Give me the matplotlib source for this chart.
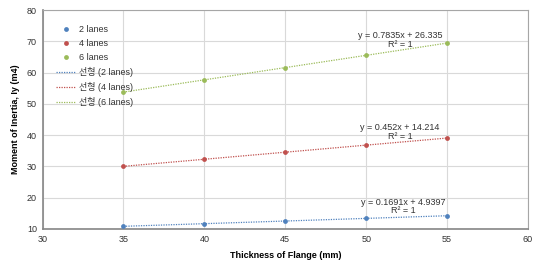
import numpy as np
import matplotlib
matplotlib.use("Agg")
import matplotlib.pyplot as plt

plt.rcParams['font.family'] = ['Liberation Sans', 'Noto Sans CJK KR', 'DejaVu Sans']

thickness = [35, 40, 45, 50, 55]
lanes2 = [10.86, 11.70, 12.55, 13.39, 14.24]
lanes4 = [30.03, 32.29, 34.55, 36.81, 39.07]
lanes6 = [53.76, 57.68, 61.59, 65.51, 69.43]
series_names = ['2 lanes', '4 lanes', '6 lanes']
trend_names = ['선형 (2 lanes)', '선형 (4 lanes)', '선형 (6 lanes)']
equations = ['y = 0.1691x + 4.9397', 'y = 0.452x + 14.214', 'y = 0.7835x + 26.335']
colors = ['#4F81BD', '#C0504D', '#9BBB59']

fig = plt.figure(figsize=(5.35, 2.63), dpi=100)
ax = fig.add_axes([42.5/535, 1-229/263, (528-42.5)/535, 219/263])

data = [lanes2, lanes4, lanes6]
handles_pts = []
handles_lines = []
eq_pos = [(52.3, 18.6, 15.8), (52.1, 42.6, 39.7), (52.1, 71.7, 69.1)]
for vals, c, n in zip(data, colors, series_names):
    h = ax.scatter(thickness, vals, s=12, color=c, zorder=3, label=n, linewidths=0)
    handles_pts.append(h)
for vals, c, n, pos, eq in zip(data, colors, trend_names, eq_pos, equations):
    m, b = np.polyfit(thickness, vals, 1)
    xs = np.array([thickness[0], thickness[-1]])
    h, = ax.plot(xs, m*xs + b, linestyle=(0, (1, 1)), lw=0.9, color=c, label=n, zorder=2)
    handles_lines.append(h)
    ax.text(pos[0], pos[1], eq, ha='center', va='center', fontsize=6.5, color='#333333')
    ax.text(pos[0], pos[2], "R² = 1", ha='center', va='center', fontsize=6.5, color='#333333')

ax.set_xlim(30, 60)
ax.set_ylim(10, 80)
ax.set_xticks(range(30, 61, 5))
ax.set_yticks(range(10, 81, 10))
ax.grid(True, color='#D9D9D9', lw=0.8)
ax.set_axisbelow(True)
ax.tick_params(length=0, labelsize=6.5, colors='#333333', pad=4)
for s in ['top', 'right']:
    ax.spines[s].set_color('#A6A6A6')
for s in ['left', 'bottom']:
    ax.spines[s].set_color('#868686')
    ax.spines[s].set_linewidth(1.2)

ax.set_xlabel('Thickness of Flange (mm)', fontsize=6.5, fontweight='bold', labelpad=5)
ax.set_ylabel('Moment of Inertia, Iy (m4)', fontsize=6.5, fontweight='bold', labelpad=5)

leg = ax.legend(handles=handles_pts + handles_lines, loc='upper left', frameon=False,
                fontsize=6.5, bbox_to_anchor=(0.012, 0.97), handlelength=2.2,
                handletextpad=0.3, labelspacing=0.55, borderaxespad=0.5)
for t in leg.get_texts():
    t.set_color('#333333')

fig.savefig('out.png', dpi=100)
